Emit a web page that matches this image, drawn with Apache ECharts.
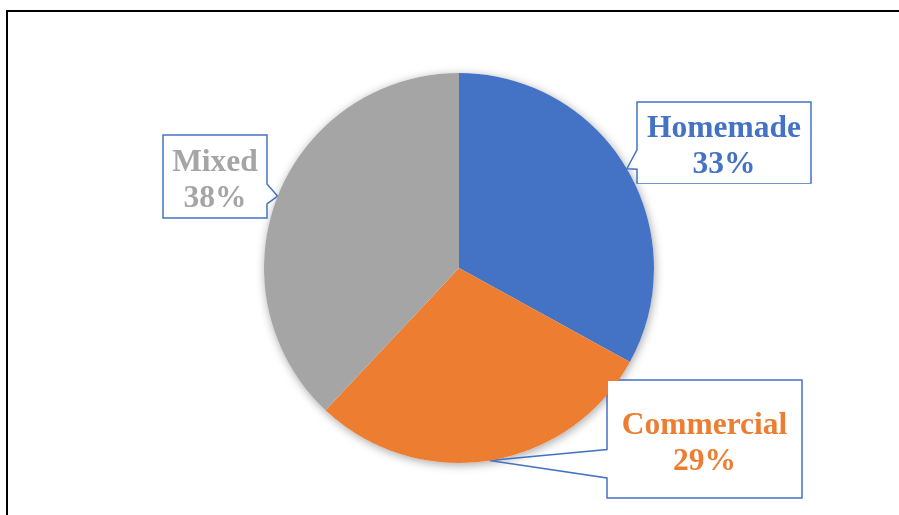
<!DOCTYPE html>
<html>
<head>
<meta charset="utf-8">
<script src="https://cdn.jsdelivr.net/npm/echarts@6/dist/echarts.min.js"></script>
<style>
  html, body { margin: 0; padding: 0; background: #ffffff; }
  #chart { width: 899px; height: 515px; }
</style>
</head>
<body>
<div id="chart"></div>
<script>
// Share of each preparation type
const categories = ['Homemade', 'Commercial', 'Mixed'];
const shares = [33, 29, 38];
const sliceColors = ['#4472C4', '#ED7D31', '#A5A5A5'];

// Callout box placement: centre and size, in pixels
const calloutBoxes = [
  { cx: 724, cy: 142.5, w: 174, h: 81 },
  { cx: 704.5, cy: 439, w: 195, h: 118 },
  { cx: 215, cy: 176.5, w: 104, h: 83 }
];

const PIE_CENTER = [459, 268];
const PIE_RADIUS = 195;
const FONT = '"Liberation Serif", "Times New Roman", serif';
const FONT_SIZE = 31.5;
const LINE_H = 36;
const TEXT_DROP = 4.5;   // text sits slightly below the box's middle
const CALLOUT_BLUE = '#4472C4';

// Measure label lines so the white box can be sized through padding
const measureCtx = document.createElement('canvas').getContext('2d');
measureCtx.font = 'bold ' + FONT_SIZE + 'px ' + FONT;
function calloutText(name, pct) { return name + '\n' + Math.round(pct) + '%'; }

const pieData = categories.map((name, i) => {
  const box = calloutBoxes[i];
  const lines = [name, shares[i] + '%'];
  const textW = Math.max(...lines.map(l => measureCtx.measureText(l).width));
  const padX = Math.max(0, (box.w - 2 - textW) / 2);
  const padY = Math.max(0, (box.h - 2 - LINE_H * lines.length) / 2);
  return {
    name: name,
    value: shares[i],
    itemStyle: { color: sliceColors[i] },
    label: {
      color: sliceColors[i],
      padding: [padY + TEXT_DROP, padX, Math.max(0, padY - TEXT_DROP), padX]
    }
  };
});

// Outline of a wedge callout: box plus a pointer reaching the slice edge
function calloutOutline(tip, box) {
  const L = box.cx - box.w / 2, R = box.cx + box.w / 2;
  const T = box.cy - box.h / 2, B = box.cy + box.h / 2;
  const yA = T + 0.59 * box.h, yB = T + 0.83 * box.h;
  if (tip[0] < L) {
    return [tip, [L, yB], [L, B], [R, B], [R, T], [L, T], [L, yA], tip];
  }
  return [tip, [R, yA], [R, T], [L, T], [L, B], [R, B], [R, yB], tip];
}

const chart = echarts.init(document.getElementById('chart'), null, { renderer: 'canvas' });

chart.setOption({
  animation: false,
  backgroundColor: '#ffffff',
  graphic: [{
    type: 'rect',
    silent: true,
    shape: { x: 7, y: 11, width: 1200, height: 1200 },
    style: { fill: 'none', stroke: '#000000', lineWidth: 2 }
  }],
  series: [
    {
      // soft drop shadow beneath the whole pie
      type: 'pie',
      silent: true,
      z: 1,
      center: PIE_CENTER,
      radius: PIE_RADIUS,
      label: { show: false },
      labelLine: { show: false },
      itemStyle: {
        color: '#ffffff',
        borderWidth: 0,
        shadowBlur: 10,
        shadowOffsetX: 1,
        shadowOffsetY: 2,
        shadowColor: 'rgba(0,0,0,0.35)'
      },
      data: [{ value: 1 }]
    },
    {
      type: 'pie',
      z: 2,
      center: PIE_CENTER,
      radius: PIE_RADIUS,
      startAngle: 90,
      clockwise: true,
      avoidLabelOverlap: false,
      itemStyle: { borderWidth: 0 },
      label: {
        show: true,
        position: 'outside',
        formatter: p => calloutText(p.name, p.percent),
        fontFamily: FONT,
        fontWeight: 'bold',
        fontSize: FONT_SIZE,
        lineHeight: LINE_H,
        align: 'center',
        backgroundColor: '#ffffff'
      },
      labelLine: {
        show: true,
        length: 10,
        length2: 10,
        smooth: false,
        lineStyle: { color: CALLOUT_BLUE, width: 1.5, join: 'miter' }
      },
      labelLayout: function (params) {
        const box = calloutBoxes[params.dataIndex];
        const tip = params.labelLinePoints ? params.labelLinePoints[0] : [box.cx, box.cy];
        return {
          x: box.cx,
          y: box.cy - box.h / 2 + 1,
          align: 'center',
          verticalAlign: 'top',
          labelLinePoints: calloutOutline([tip[0], tip[1]], box)
        };
      },
      data: pieData
    }
  ]
});
</script>
</body>
</html>
